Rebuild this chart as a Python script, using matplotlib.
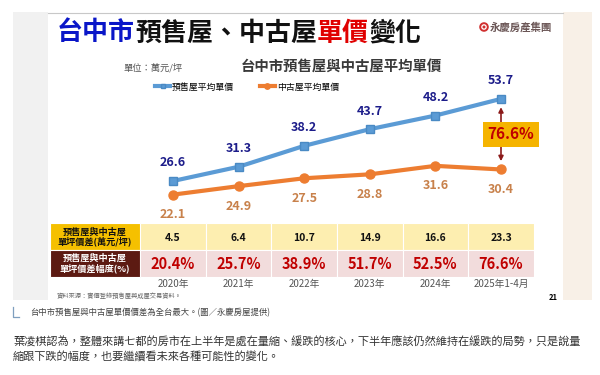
import matplotlib
matplotlib.use('Agg')
import matplotlib.pyplot as plt
from matplotlib.patches import Rectangle, Circle

plt.rcParams['font.family'] = ['Noto Sans CJK TC', 'DejaVu Sans']

# data
years = ['2020年', '2021年', '2022年', '2023年', '2024年', '2025年1-4月']
presale = [26.6, 31.3, 38.2, 43.7, 48.2, 53.7]
resale = [22.1, 24.9, 27.5, 28.8, 31.6, 30.4]
gap_price = [4.5, 6.4, 10.7, 14.9, 16.6, 23.3]
gap_pct = [20.4, 25.7, 38.9, 51.7, 52.5, 76.6]

fig = plt.figure(figsize=(6, 3.75), dpi=100)
fig.patch.set_facecolor('white')

# page / slide background, pixel coordinates
bg = fig.add_axes([0, 0, 1, 1])
bg.set_xlim(0, 600)
bg.set_ylim(375, 0)
bg.axis('off')
bg.add_patch(Rectangle((13, 12), 35, 288, fc='#f1f1f1', lw=0))
bg.add_patch(Rectangle((563, 12), 29, 288, fc='#f8f0e7', lw=0))
bg.plot([48, 563], [12.5, 12.5], color='#c8c8c8', lw=0.8)

# big title in mixed colours
parts = [('台中市', '#0a16c8'), ('預售屋、中古屋', '#111111'),
         ('單價', '#e00000'), ('變化', '#111111')]
t = bg.text(57, 33, parts[0][0], color=parts[0][1], fontsize=18.7,
            fontweight='bold', va='center', ha='left')
for s, c in parts[1:]:
    t = bg.annotate(s, xy=(1, 0), xycoords=t, va='bottom', ha='left',
                    color=c, fontsize=18.7, fontweight='bold')

# logo
bg.add_patch(Circle((484, 27), 3.8, fc='none', ec='#d03030', lw=1.4))
bg.add_patch(Circle((484, 27), 1.5, fc='#d03030', ec='none'))
bg.text(490, 27, '永慶房產集團', fontsize=7.5, fontweight='bold',
        color='#6a5555', va='center')

bg.text(123, 68, '單位：萬元/坪', fontsize=6.7, color='#555555', va='center')
bg.text(241, 67, '台中市預售屋與中古屋平均單價', fontsize=10.4,
        fontweight='bold', color='#3a3a3a', va='center')

# line chart
ax = fig.add_axes([140.2 / 600, 1 - 220 / 375, 393.6 / 600, 160 / 375])
ax.set_facecolor('none')
ax.set_xlim(-0.5, 5.5)
ax.set_ylim(13.73, 66.53)
ax.axis('off')
x = list(range(len(years)))
ax.plot(x, presale, color='#5b9bd5', lw=3, marker='s', ms=5.5,
        mfc='#5b9bd5', mec='#4a8ac4', label='預售屋平均單價')
ax.plot(x, resale, color='#ed7d31', lw=3, marker='o', ms=6.5,
        label='中古屋平均單價')
for i, v in enumerate(presale):
    ax.annotate(f'{v:.1f}', (i, v), xytext=(0, 13), textcoords='offset points',
                ha='center', va='center', fontsize=9, fontweight='bold',
                color='#1c1c8a')
for i, v in enumerate(resale):
    ax.annotate(f'{v:.1f}', (i, v), xytext=(0, -14.4), textcoords='offset points',
                ha='center', va='center', fontsize=9, fontweight='bold',
                color='#c8814b')

ax.legend(loc='center left', bbox_to_anchor=(155 / 600, 1 - 87 / 375),
          bbox_transform=fig.transFigure, ncol=2, frameon=False, fontsize=6.4,
          handlelength=1.7, handletextpad=0.2, columnspacing=2.9,
          borderaxespad=0, borderpad=0, markerscale=0.6)

# gap arrow on the last year
ax.annotate('', xy=(5, resale[-1]), xytext=(5, presale[-1]),
            arrowprops=dict(arrowstyle='<|-|>', color='#8b1a1a', lw=1.2,
                            shrinkA=6, shrinkB=6, mutation_scale=7))
ax.text(5.15, 41.95, f'{gap_pct[-1]:.1f}%', ha='center', va='center',
        fontsize=11, fontweight='bold', color='#c00000',
        bbox=dict(boxstyle='square,pad=0.3', fc='#f5b400', ec='none'))

# table under the chart
tb = fig.add_axes([140.2 / 600, 1 - 277 / 375, 393.6 / 600, 54.5 / 375])
tb.set_facecolor('none')
tb.set_xlim(-0.5, 5.5)
tb.set_ylim(2, 0)
for sp in tb.spines.values():
    sp.set_visible(False)
tb.set_yticks([])
tb.set_xticks(x, years, fontsize=7, color='#555555')
tb.tick_params(axis='x', length=0, pad=1.5)

tb.add_patch(Rectangle((-1.875, 0), 1.375, 1, fc='#f5c000', ec='white',
                       lw=0.8, clip_on=False))
tb.add_patch(Rectangle((-1.875, 1), 1.375, 1, fc='#5c1a12', ec='white',
                       lw=0.8, clip_on=False))
tb.text(-1.19, 0.53, '預售屋與中古屋\n單坪價差(萬元/坪)', ha='center', va='center',
        fontsize=6.6, fontweight='bold', color='#111111', linespacing=1.05)
tb.text(-1.19, 1.5, '預售屋與中古屋\n單坪價差幅度(%)', ha='center', va='center',
        fontsize=6.6, fontweight='bold', color='white', linespacing=1.05)
for i in x:
    tb.add_patch(Rectangle((i - 0.5, 0), 1, 1, fc='#fdeeb0', ec='white', lw=0.8))
    tb.add_patch(Rectangle((i - 0.5, 1), 1, 1, fc='#f2dcdc', ec='white', lw=0.8))
    tb.text(i, 0.57, f'{gap_price[i]:.1f}', ha='center', va='center',
            fontsize=7.5, fontweight='bold', color='#111111')
    tb.text(i, 1.53, f'{gap_pct[i]:.1f}%', ha='center', va='center',
            fontsize=10.5, fontweight='bold', color='#c00000')

bg.text(57, 296, '資料來源：實價登錄預售屋與成屋交易資料。', fontsize=4.5,
        color='#666666', va='center')
bg.text(553, 297, '21', fontsize=5.5, fontweight='bold', va='center', ha='center')

# caption and article text under the picture
bg.plot([13, 13, 19], [307, 317, 317], color='#7f9fbf', lw=0.9)
bg.text(30, 313, '台中市預售屋與中古屋單價價差為全台最大。(圖／永慶房屋提供)',
        fontsize=6, color='#444444', va='center')
bg.text(13, 342, '葉凌棋認為，整體來講七都的房市在上半年是處在量縮、緩跌的核心，'
        '下半年應該仍然維持在緩跌的局勢，只是說量', fontsize=8.05, color='#333333',
        va='center')
bg.text(13, 357, '縮跟下跌的幅度，也要繼續看未來各種可能性的變化。', fontsize=8.05,
        color='#333333', va='center')

fig.savefig('out.png', dpi=100)
